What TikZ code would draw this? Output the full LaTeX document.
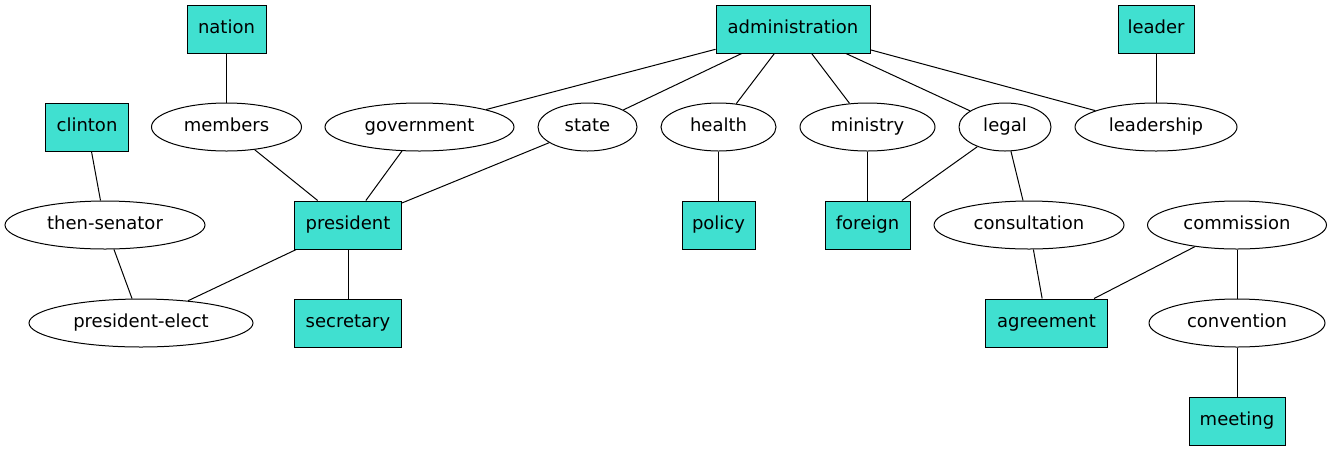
\documentclass[tikz,border=0pt]{standalone}
\usepackage{fontspec}
\setmainfont{DejaVu Sans}
\usetikzlibrary{shapes.geometric}
\definecolor{turq}{HTML}{40E0D0}
\tikzset{
  base/.style={draw=black, line width=1pt, inner sep=0pt, minimum height=48pt,
    text height=13.5pt, text depth=4.5pt,
    font=\fontsize{18}{20}\selectfont, text=black},
  boxn/.style={base, rectangle, fill=turq},
  elln/.style={base, ellipse},
  edge/.style={draw=black, line width=1pt}
}
\begin{document}
\begin{tikzpicture}[x=1pt,y=-1pt]
\useasboundingbox (0,0) rectangle (1332,451);
% row 1
\node[boxn, minimum width=79pt]  (nation) at (226.5,29) {nation};
\node[boxn, minimum width=154pt] (admin)  at (793,29) {administration};
\node[boxn, minimum width=76pt]  (leader) at (1156,29) {leader};
% row 2
\node[boxn, minimum width=83pt]  (clinton)    at (87,127) {clinton};
\node[elln, minimum width=150pt] (members)    at (226.5,127) {members};
\node[elln, minimum width=189pt] (government) at (419.5,127) {government};
\node[elln, minimum width=99pt]  (state)      at (587.5,127) {state};
\node[elln, minimum width=115pt] (health)     at (718.5,127) {health};
\node[elln, minimum width=135pt] (ministry)   at (867.5,127) {ministry};
\node[elln, minimum width=92pt]  (legal)      at (1005,127) {legal};
\node[elln, minimum width=162pt] (leadership) at (1156,127) {leadership};
% row 3
\node[elln, minimum width=200pt] (senator)      at (105,225) {then-senator};
\node[boxn, minimum width=107pt] (president)    at (348,225) {president};
\node[boxn, minimum width=73pt]  (policy)       at (718.5,225) {policy};
\node[boxn, minimum width=85pt]  (foreign)      at (867.5,225) {foreign};
\node[elln, minimum width=190pt] (consultation) at (1029,225) {consultation};
\node[elln, minimum width=179pt] (commission)   at (1237,225) {commission};
% row 4
\node[elln, minimum width=224pt] (elect)      at (141,323) {president-elect};
\node[boxn, minimum width=107pt] (secretary)  at (348,323) {secretary};
\node[boxn, minimum width=122pt] (agreement)  at (1046.5,323) {agreement};
\node[elln, minimum width=176pt] (convention) at (1237,323) {convention};
% row 5
\node[boxn, minimum width=96pt] (meeting) at (1237,421) {meeting};
% edges
\draw[edge] (nation) -- (members);
\draw[edge] (admin) -- (government);
\draw[edge] (admin) -- (state);
\draw[edge] (admin) -- (health);
\draw[edge] (admin) -- (ministry);
\draw[edge] (admin) -- (legal);
\draw[edge] (admin) -- (leadership);
\draw[edge] (leader) -- (leadership);
\draw[edge] (clinton) -- (senator);
\draw[edge] (members) -- (president);
\draw[edge] (government) -- (president);
\draw[edge] (state) -- (president);
\draw[edge] (health) -- (policy);
\draw[edge] (ministry) -- (foreign);
\draw[edge] (legal) -- (foreign);
\draw[edge] (legal) -- (consultation);
\draw[edge] (senator) -- (elect);
\draw[edge] (president) -- (elect);
\draw[edge] (president) -- (secretary);
\draw[edge] (consultation) -- (agreement);
\draw[edge] (commission) -- (agreement);
\draw[edge] (commission) -- (convention);
\draw[edge] (convention) -- (meeting);
\end{tikzpicture}
\end{document}
